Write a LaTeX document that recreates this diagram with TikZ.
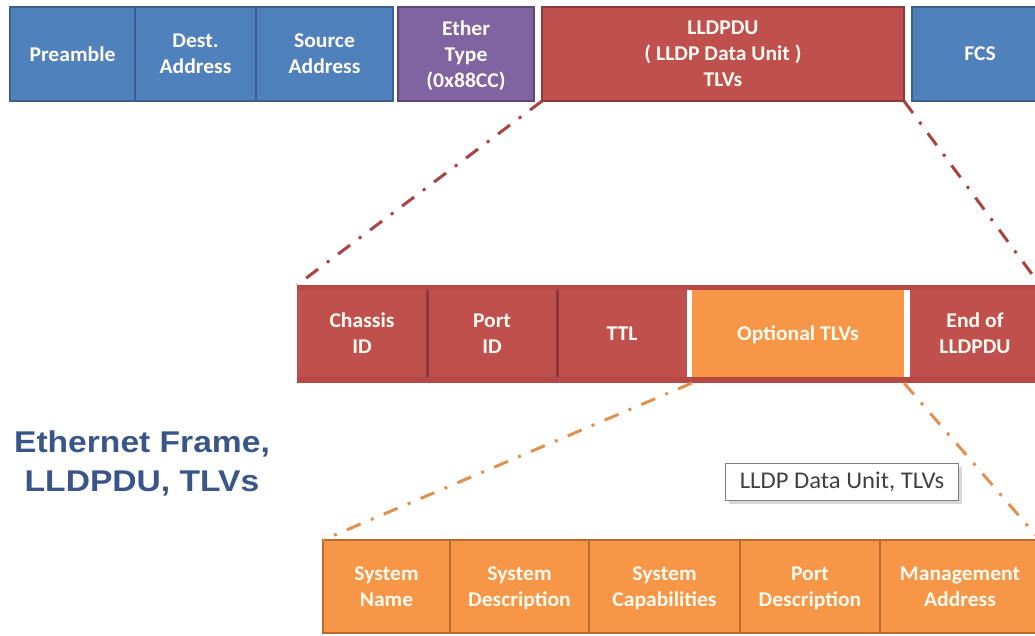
\documentclass[tikz,border=0pt]{standalone}
\usepackage{fontspec}
\newfontfamily\boxfont[FakeStretch=1.03]{Carlito}
\newfontfamily\titlefont[FakeStretch=1.12]{Liberation Sans}
\usetikzlibrary{shadows}

\definecolor{fblue}{HTML}{4F81BD}
\definecolor{dblue}{HTML}{3A5F8B}
\definecolor{fpurple}{HTML}{8064A2}
\definecolor{dpurple}{HTML}{5C4776}
\definecolor{fred}{HTML}{C0504D}
\definecolor{bred}{HTML}{B84845}
\definecolor{dred}{HTML}{8C3A38}
\definecolor{lred}{HTML}{A8433F}
\definecolor{forange}{HTML}{F79646}
\definecolor{dorange}{HTML}{B86C2F}
\definecolor{lorange}{HTML}{E0904F}
\definecolor{boxtext}{HTML}{FFFBF0}
\definecolor{titleblue}{HTML}{3A5588}

\tikzset{
    cell/.style={ rectangle, anchor=north west, inner sep=0pt, outer sep=0pt, align=center, text=boxtext, text depth=0pt,
                  font=\boxfont\bfseries\fontsize{21}{26}\selectfont },
    bluecell/.style={ cell, fill=fblue, draw=dblue, line width=2pt, minimum height=94 },
    purplecell/.style={ cell, fill=fpurple, draw=dpurple, line width=2pt, minimum height=94 },
    redcell/.style={ cell, fill=fred, draw=dred, line width=2pt, minimum height=94 },
    tlvcell/.style={ cell, fill=fred, minimum width=130, minimum height=87 },
    optcell/.style={ cell, fill=forange, draw=dorange, line width=2pt, minimum height=93 },
    sepline/.style={ dred, line width=3pt },
    redlink/.style={ lred, line width=3pt, dash pattern=on 15pt off 11pt on 3pt off 11pt },
    orangelink/.style={ lorange, line width=3pt, dash pattern=on 15pt off 11pt on 3pt off 11pt }
}

\begin{document}
\begin{tikzpicture}[ x=1pt, y=-1pt ]
    \useasboundingbox (0,0) rectangle (1035,635);
    \clip (0,0) rectangle (1035,635);

    % ethernet frame
    \node [ bluecell, minimum width=125 ] (preamble) at (10,7) {Preamble};
    \node [ bluecell, minimum width=121 ] (dest) at (preamble.north east) {Dest.\\Address};
    \node [ bluecell, minimum width=137 ] (source) at (dest.north east) {Source\\Address};
    \node [ purplecell, minimum width=136 ] (ethertype) at (398,7) {Ether\\Type\\(0x88CC)};
    \node [ redcell, minimum width=362 ] (lldpdu) at (542,7) {LLDPDU\\( LLDP Data Unit )\\TLVs};
    \node [ bluecell, minimum width=136 ] (fcs) at (912,7) {FCS};

    % lldpdu
    \node [ cell, fill=bred, minimum width=743, minimum height=98 ] (tlvbar) at (297,285) {};
    \node [ tlvcell ] (chassis) at (297,290) {Chassis\\ID};
    \node [ tlvcell ] (port) at (chassis.north east) {Port\\ID};
    \node [ tlvcell ] (ttl) at (port.north east) {TTL};
    \node [ tlvcell, fill=forange, minimum width=212 ] (optional) at (692,290) {Optional TLVs};
    \node [ tlvcell ] (endof) at (910,290) {End of\\LLDPDU};
    \draw [ sepline ] (chassis.north east) -- (chassis.south east);
    \draw [ sepline ] (port.north east) -- (port.south east);
    \fill [ white ] (ttl.north east) rectangle (optional.south west);
    \fill [ white ] (optional.north east) rectangle (endof.south west);

    % optional tlvs
    \node [ optcell, minimum width=127 ] (sysname) at (323,540) {System\\Name};
    \node [ optcell, minimum width=139 ] (sysdesc) at (sysname.north east) {System\\Description};
    \node [ optcell, minimum width=151 ] (syscap) at (sysdesc.north east) {System\\Capabilities};
    \node [ optcell, minimum width=140 ] (portdesc) at (syscap.north east) {Port\\Description};
    \node [ optcell, minimum width=160 ] (mgmt) at (portdesc.north east) {Management\\Address};

    \draw [ redlink ] (lldpdu.south west) -- (tlvbar.north west);
    \draw [ redlink ] (lldpdu.south east) -- (tlvbar.north east);
    \draw [ orangelink ] (optional.south west |- tlvbar.south) -- (sysname.north west);
    \draw [ orangelink ] (optional.south east |- tlvbar.south) -- (mgmt.north east);

    \node [ anchor=north west, draw=gray, line width=1pt, fill=white, minimum width=233, minimum height=37, inner sep=0pt,
            drop shadow={ shadow xshift=3pt, shadow yshift=-3pt, fill=gray!60 },
            text=black!75, font=\boxfont\fontsize{24}{28}\selectfont ] (note) at (725,463) {LLDP Data Unit, TLVs};

    \node [ anchor=north, align=center, inner sep=0pt, text=titleblue,
            font=\titlefont\bfseries\fontsize{30}{39}\selectfont ] (heading) at (142,431) {Ethernet Frame,\\LLDPDU, TLVs};
\end{tikzpicture}
\end{document}
